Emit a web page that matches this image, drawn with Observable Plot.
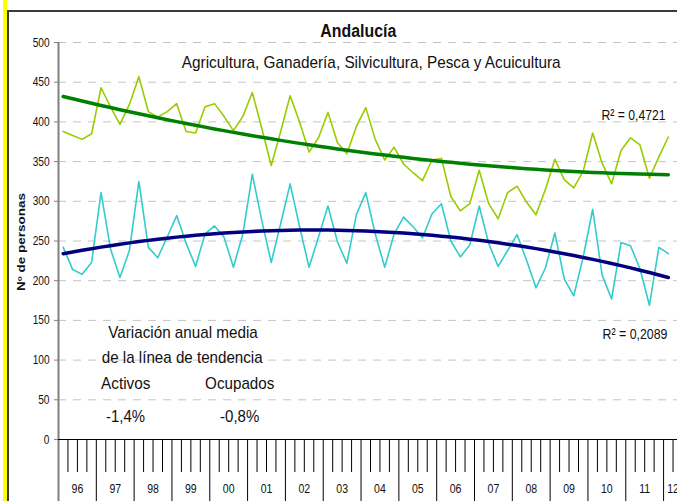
<!DOCTYPE html>
<html><head><meta charset="utf-8">
<script src="https://cdn.jsdelivr.net/npm/d3@7"></script>
<script src="https://cdn.jsdelivr.net/npm/@observablehq/plot@0.6"></script>
<style>
html,body{margin:0;padding:0;background:#fff;overflow:hidden;}
#wrap{position:relative;width:677px;height:501px;overflow:hidden;background:#fff;}
#stripe{position:absolute;left:3px;top:0;width:4px;height:501px;background:#ffff00;}
#frameL{position:absolute;left:7px;top:10px;width:2px;height:491px;background:#3a3a3a;}
#frameT{position:absolute;left:7px;top:10px;width:670px;height:2px;background:#3a3a3a;}
#chart{position:absolute;left:0;top:0;width:700px;}
#chart svg{max-width:none !important;}
</style></head><body>
<div id="wrap"><div id="stripe"></div><div id="frameL"></div><div id="frameT"></div><div id="chart"></div></div>
<script>
const years = ["96","97","98","99","00","01","02","03","04","05","06","07","08","09","10","11","12"];
const quartersShown = 66; // category slots on the axis (last year runs past the crop)
const activos = [388,383,378,385,443,419,397,422,457,413,406,413,423,388,386,419,423,407,389,407,437,392,345,388,433,400,362,380,412,374,360,394,418,378,352,368,347,336,326,352,354,306,288,297,339,297,278,311,319,299,283,315,353,327,317,338,386,348,322,364,380,371,329,356,381];
const ocupados = [242,214,208,223,311,240,204,238,325,242,229,255,282,247,218,259,269,255,217,259,334,276,223,272,322,268,217,255,294,249,222,283,311,259,217,259,280,268,254,284,297,250,230,245,294,247,218,238,258,226,191,216,260,202,181,230,290,207,177,248,244,215,169,242,234];
const yTicks = [0,50,100,150,200,250,300,350,400,450,500];
const title = "Andalucía";
const subtitle = "Agricultura, Ganadería, Silvicultura, Pesca y Acuicultura";
const yLabel = "Nº de personas";
const r2Labels = ["R² = 0,4721", "R² = 0,2089"];
const noteLines = ["Variación anual media", "de la línea de tendencia"];
const noteSeries = ["Activos", "Ocupados"];
const noteValues = ["-1,4%", "-0,8%"];

// least-squares polynomial trend (as the spreadsheet's polynomial trendline)
function polyfit(ys, order){
  const n = ys.length, h = (n-1)/2;
  const xs = ys.map((_,i)=>(i-h)/h);
  const m = order+1;
  const A = Array.from({length:m},()=>new Array(m+1).fill(0));
  for (let i=0;i<n;i++){
    const p=[]; for(let k=0;k<m;k++) p.push(xs[i]**k);
    for(let r=0;r<m;r++){ for(let c=0;c<m;c++) A[r][c]+=p[r]*p[c]; A[r][m]+=p[r]*ys[i]; }
  }
  for(let col=0;col<m;col++){
    let piv=col; for(let r=col+1;r<m;r++) if(Math.abs(A[r][col])>Math.abs(A[piv][col])) piv=r;
    [A[col],A[piv]]=[A[piv],A[col]];
    for(let r=0;r<m;r++){ if(r===col) continue; const f=A[r][col]/A[col][col]; for(let c=col;c<=m;c++) A[r][c]-=f*A[col][c]; }
  }
  const coef=A.map((row,r)=>row[m]/row[r]);
  return xs.map(x=>coef.reduce((s,c,k)=>s+c*x**k,0));
}
const trendA = polyfit(activos, 2);
const trendO = polyfit(ocupados, 2);

const FONT = "Arial,'Liberation Sans',sans-serif";
const QW = 9.462;
const ML=58, MT=42, MR=0, MB=62, H=501;
const W = Math.round(ML + quartersShown*QW);
const at = (x,y) => ({frameAnchor:"top-left", dx:x-ML, dy:y-MT, textAnchor:"middle", lineAnchor:"middle"});
const bounds = d3.range(0, quartersShown+1);
const yearIdx = years.map((_,j)=>j);

const plot = Plot.plot({
  width:W, height:H, marginLeft:ML, marginRight:MR, marginTop:MT, marginBottom:MB,
  style:{fontFamily:FONT, background:"transparent", color:"#111", maxWidth:"none"},
  x:{domain:[0,quartersShown], axis:null},
  y:{domain:[0,500], axis:null},
  marks:[
    Plot.ruleY(yTicks.filter(d=>d>0), {stroke:"#c4c4c4", strokeDasharray:"8,7", strokeWidth:1}),
    Plot.axisY({ticks:yTicks, tickSize:4, tickPadding:5, fontSize:12.5, stroke:"#808080", label:null, tickFormat:d=>String(d)}),
    Plot.ruleX(bounds.filter(k=>k%4!==0), {x:d=>d, y1:0, y2:0, insetBottom:-33, stroke:"#000", strokeWidth:1}),
    Plot.ruleX(bounds.filter(k=>k%4===0 && k>0), {x:d=>d, y1:0, y2:0, insetBottom:-62, stroke:"#000", strokeWidth:1}),
    Plot.ruleX([0], {x:d=>d, stroke:"#808080", strokeWidth:2, insetBottom:-62}),
    Plot.ruleY([0], {stroke:"#000", strokeWidth:1}),
    Plot.text(yearIdx, {x:j=>(4*j + Math.min(4*j+4,quartersShown))/2, text:j=>years[j], frameAnchor:"bottom", dy:53, fontSize:13}),
    Plot.line(activos, {x:(d,i)=>i+0.5, y:d=>d, stroke:"#99cc00", strokeWidth:1.6}),
    Plot.line(ocupados, {x:(d,i)=>i+0.5, y:d=>d, stroke:"#33cccc", strokeWidth:1.6}),
    Plot.line(trendA, {x:(d,i)=>i+0.5, y:d=>d, stroke:"#008000", strokeWidth:3.5}),
    Plot.line(trendO, {x:(d,i)=>i+0.5, y:d=>d, stroke:"#000080", strokeWidth:3.5}),
    Plot.text([title], {...at(357.8,30), fontSize:19, fontWeight:"bold"}),
    Plot.text([subtitle], {...at(370.7,62.3), fontSize:17}),
    Plot.text([r2Labels[0]], {...at(665,114.3), textAnchor:"end", fontSize:15.5}),
    Plot.text([r2Labels[1]], {...at(667,333.3), textAnchor:"end", fontSize:15.5}),
    Plot.text([noteLines[0]], {...at(182.5,332), fontSize:16}),
    Plot.text([noteLines[1]], {...at(181.7,357.2), fontSize:16}),
    Plot.text([noteSeries[0]], {...at(125.2,383.2), fontSize:16}),
    Plot.text([noteSeries[1]], {...at(239.2,383.2), fontSize:16}),
    Plot.text([noteValues[0]], {...at(125,416.6), fontSize:16}),
    Plot.text([noteValues[1]], {...at(239.2,416.6), fontSize:16}),
    Plot.text([yLabel], {...at(20.8,241.5), rotate:-90, fontSize:10, fontWeight:"bold"})
  ]
});
plot.style.maxWidth = "none";
plot.style.height = H + "px";
plot.style.width = W + "px";
document.getElementById("chart").appendChild(plot);

// condense lettering horizontally to the reference's narrow type
const fitWidths = new Map([
  [title,76],[subtitle,379],[r2Labels[0],64],[r2Labels[1],65],
  [noteLines[0],149.5],[noteLines[1],161],[noteSeries[0],49.3],[noteSeries[1],69.3],
  [noteValues[0],39],[noteValues[1],39.3],[yLabel,98]
]);
const yearSet = new Set(years);
const squeeze = (el, s) => {
  const tr = el.getAttribute("transform") || "";
  el.setAttribute("transform", tr + ` scale(${s.toFixed(4)},1)`);
};
d3.select(plot).selectAll("text").each(function(){
  const t = this.textContent;
  if (fitWidths.has(t)) {
    const len = this.getComputedTextLength();
    if (len > 0) squeeze(this, fitWidths.get(t)/len);
  } else if (yearSet.has(t)) {
    squeeze(this, 0.81);
  }
});
d3.select(plot).selectAll('g[aria-label="y-axis tick label"] text').each(function(){ squeeze(this, 0.81); });
</script>
</body></html>
